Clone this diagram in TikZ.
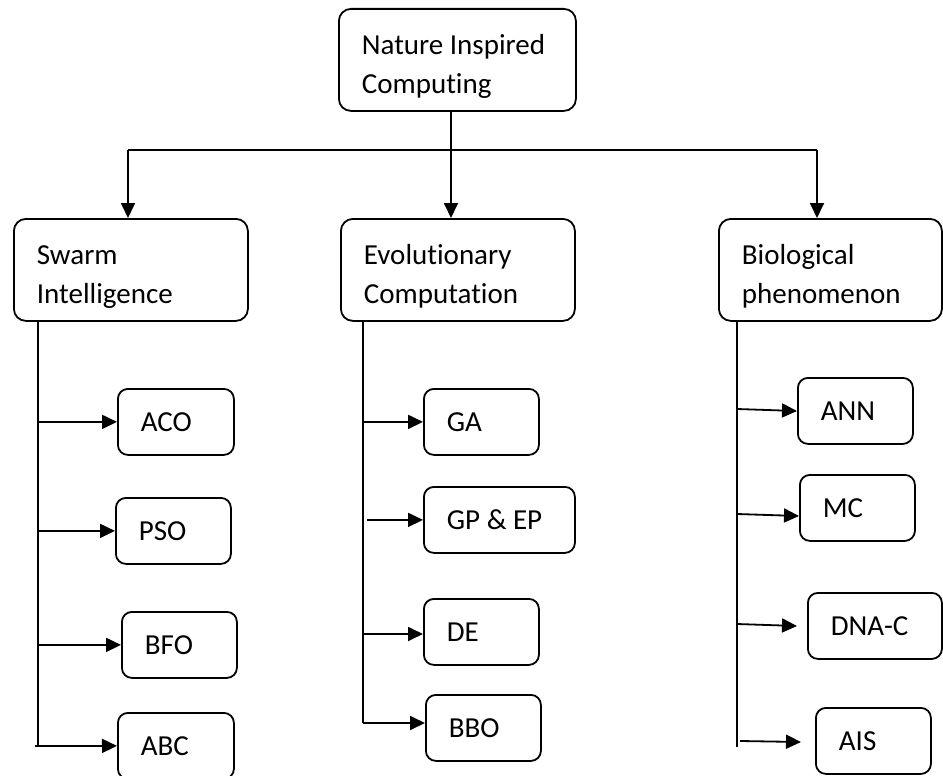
\documentclass[tikz,border=0pt]{standalone}
\usepackage{fontspec}
\setmainfont{Carlito}[Ligatures=NoCommon]
\usetikzlibrary{arrows.meta}
\begin{document}
\begin{tikzpicture}[x=1pt,y=-1pt,
  box/.style={draw, line width=1.8pt, rounded corners=12pt, anchor=north west,
    inner xsep=23pt, inner ysep=0pt, align=flush left,
    font=\fontsize{29}{39}\selectfont},
  big/.style={box, minimum height=102pt, execute at begin node=\rule{0pt}{33pt}},
  leaf/.style={box, minimum height=66pt, rounded corners=10pt},
  conn/.style={line width=1.8pt},
  arr/.style={conn, -{Triangle[length=15pt,width=14pt]}}]
\path[use as bounding box] (0,0) rectangle (943,776);

% root and the three families
\node[big, text width=191pt] (nic)   at (338,8)   {Nature Inspired\\Computing};
\node[big, text width=188pt] (swarm) at (13,218)  {Swarm\\Intelligence};
\node[big, text width=188pt] (evo)   at (340,218) {Evolutionary\\Computation};
\node[big, text width=177pt] (bio)   at (718,218) {Biological\\phenomenon};

% swarm intelligence methods
\node[leaf, text width=70pt] (aco) at (117,388) {ACO};
\node[leaf, text width=69pt] (pso) at (115,497) {PSO};
\node[leaf, text width=69pt] (bfo) at (121,611) {BFO};
\node[leaf, text width=70pt] (abc) at (117,712) {ABC};

% evolutionary methods
\node[leaf, text width=69pt]  (ga)   at (423,388) {GA};
\node[leaf, text width=105pt] (gpep) at (423,486) {GP \& EP};
\node[leaf, text width=69pt]  (de)   at (423,598) {DE};
\node[leaf, text width=69pt]  (bbo)  at (425,694) {BBO};

% biological methods
\node[leaf, text width=69pt] (ann)  at (797,377) {ANN};
\node[leaf, text width=69pt] (mc)   at (799,474) {MC};
\node[leaf, text width=88pt] (dnac) at (807,592) {DNA-C};
\node[leaf, text width=69pt] (ais)  at (815,707) {AIS};

% distribution bar under the root
\coordinate (hub) at (451,150);
\coordinate (hl)  at (128,150);
\coordinate (hr)  at (817,150);
\draw[conn] (hl) -- (hr);
\draw[arr] (hub |- nic.south) -- (hub |- evo.north);
\draw[arr] (hl) -- (hl |- swarm.north);
\draw[arr] (hr) -- (hr |- bio.north);

% swarm spine
\coordinate (sw)  at (38,747);
\coordinate (swx) at (35,746);
\draw[conn] (sw |- swarm.south) -- (sw);
\draw[arr] (sw |- aco.west) -- (aco.west);
\draw[arr] (sw |- pso.west) -- (pso.west);
\draw[arr] (sw |- bfo.west) -- (bfo.west);
\draw[arr] (swx) -- (abc.west);

% evolutionary spine
\coordinate (ev) at (363,723);
\draw[conn] (ev |- evo.south) -- (ev);
\draw[arr] (ev |- ga.west) -- (ga.west);
\draw[arr] (gpep.west -| 367,0) -- (gpep.west);
\draw[arr] (ev |- 0,634) -- (de.west |- 0,634);
\draw[arr] (ev) -- (bbo.west |- ev);

% biological spine
\coordinate (bi) at (737,747);
\coordinate (dnatip)  at (797,626);
\coordinate (aistail) at (740,741);
\coordinate (aistip)  at (801,742);
\draw[conn] (bi |- bio.south) -- (bi);
\draw[arr] (bi |- 0,409) -- (ann.west |- 0,411);
\draw[arr] (bi |- 0,514) -- (mc.west |- 0,516);
\draw[arr] (bi |- 0,624) -- (dnatip);
\draw[arr] (aistail) -- (aistip);
\end{tikzpicture}
\end{document}
